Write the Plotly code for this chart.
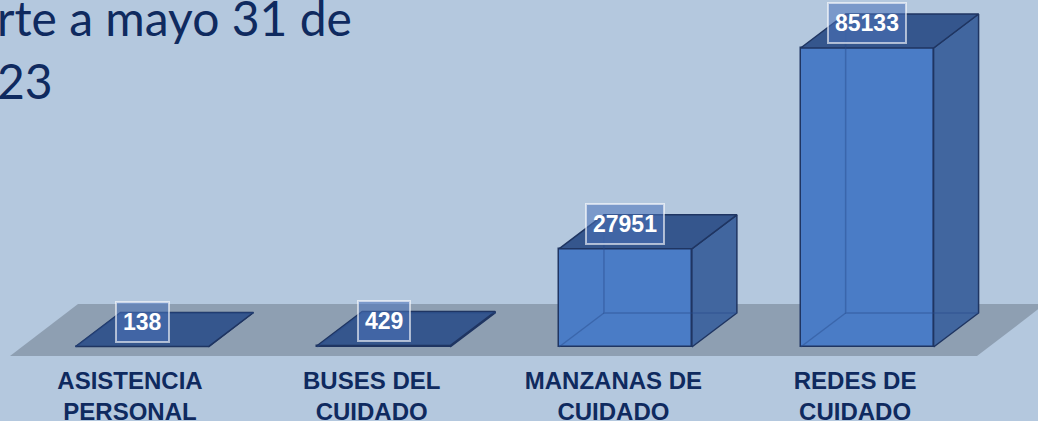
import plotly.graph_objects as go

# ---------------- data ----------------
categories = ["ASISTENCIA<br>PERSONAL", "BUSES DEL<br>CUIDADO",
              "MANZANAS DE<br>CUIDADO", "REDES DE<br>CUIDADO"]
values = [138, 429, 27951, 85133]
title_line1 = "rte a mayo 31 de"
title_line2 = "23"

# ---------------- layout constants ----------------
W, H = 1038, 421
MB = 59                      # bottom margin (room for category labels)
PH = H - MB                  # plot area height in px
XMIN, XMAX = -0.5875, 3.707
YMIN, YMAX = -4270, 98800
PX_PER_X = W / (XMAX - XMIN)
PX_PER_Y = PH / (YMAX - YMIN)

def px2x(px):
    return XMIN + px / PX_PER_X

def py2y(py):
    return YMAX - py / PX_PER_Y

BAR_W = 0.55
HW = BAR_W / 2
DX = 45 / PX_PER_X           # depth offset (x units)
DY = 34 / PX_PER_Y           # depth offset (y units)

BG = "#b4c8de"
FLOOR = "#8e9fb2"
FRONT = "#4a7cc6"
SIDE = "#41669f"
TOP = "#35568d"
EDGE = "#1f3562"
NAVY = "#0f2a5f"

fig = go.Figure()

xs = list(range(len(values)))

# side and top faces
for c, v in zip(xs, values):
    sx = [c + HW, c + HW + DX, c + HW + DX, c + HW, c + HW]
    sy = [0, DY, v + DY, v, 0]
    fig.add_trace(go.Scatter(x=sx, y=sy, mode="lines", fill="toself",
                             fillcolor=SIDE, line=dict(color=EDGE, width=1.5),
                             hoverinfo="skip", showlegend=False))
    tx = [c - HW, c + HW, c + HW + DX, c - HW + DX, c - HW]
    ty = [v, v, v + DY, v + DY, v]
    fig.add_trace(go.Scatter(x=tx, y=ty, mode="lines", fill="toself",
                             fillcolor=TOP, line=dict(color=EDGE, width=1.5),
                             hoverinfo="skip", showlegend=False))

# front faces
fig.add_trace(go.Bar(x=xs, y=values, width=BAR_W,
                     marker=dict(color=FRONT, line=dict(color=EDGE, width=1.5)),
                     hoverinfo="skip", showlegend=False))

# hidden (back) edges seen through the translucent boxes
for c, v in zip(xs, values):
    hx = [c + HW + DX, c - HW + DX, c - HW + DX, None, c - HW, c - HW + DX]
    hy = [DY, DY, v + DY, None, 0, DY]
    fig.add_trace(go.Scatter(x=hx, y=hy, mode="lines",
                             line=dict(color="rgba(40,75,140,0.45)", width=1.5),
                             hoverinfo="skip", showlegend=False))

# floor
fx = [px2x(p) for p in (10, 977, 1045, 78)]
fy = [py2y(p) for p in (356, 356, 304, 304)]
fig.add_shape(type="path", xref="x", yref="y", layer="below",
              path="M {} {} L {} {} L {} {} L {} {} Z".format(
                  fx[0], fy[0], fx[1], fy[1], fx[2], fy[2], fx[3], fy[3]),
              fillcolor=FLOOR, line=dict(width=0))

# value labels
for c, v in zip(xs, values):
    fig.add_annotation(x=c, y=v, xref="x", yref="y", text=str(v),
                       showarrow=False, yshift=25,
                       font=dict(family="Liberation Sans, Arial", size=23,
                                 color="white", weight="bold"),
                       bgcolor="rgba(75,115,185,0.55)",
                       bordercolor="rgba(255,255,255,0.6)", borderwidth=2,
                       borderpad=6)

# title (cropped text box)
fig.add_annotation(x=-5 / W, y=1 - 37 / PH, xref="paper", yref="paper",
                   xanchor="left", yanchor="bottom", text=title_line1,
                   showarrow=False, yshift=-11,
                   font=dict(family="Lato, Open Sans", size=48, color=NAVY))
fig.add_annotation(x=-5 / W, y=1 - 100 / PH, xref="paper", yref="paper",
                   xanchor="left", yanchor="bottom", text=title_line2,
                   showarrow=False, yshift=-11,
                   font=dict(family="Lato, Open Sans", size=48, color=NAVY))

fig.update_layout(
    width=W, height=H,
    margin=dict(l=0, r=0, t=0, b=MB),
    paper_bgcolor=BG, plot_bgcolor=BG,
    bargap=0,
    xaxis=dict(range=[XMIN, XMAX], tickvals=xs, ticktext=categories,
               showgrid=False, zeroline=False, showline=False, ticks="",
               ticklabelshift=-12, ticklabelstandoff=2, automargin=False,
               tickfont=dict(family="Liberation Sans, Arial", size=24,
                             color=NAVY, weight="bold"),
               fixedrange=True),
    yaxis=dict(range=[YMIN, YMAX], visible=False, fixedrange=True,
               automargin=False),
)

fig.write_html("out.html", config={"displayModeBar": False},
               post_script="document.body.style.margin='0';"
                           "document.body.style.overflow='hidden';")
